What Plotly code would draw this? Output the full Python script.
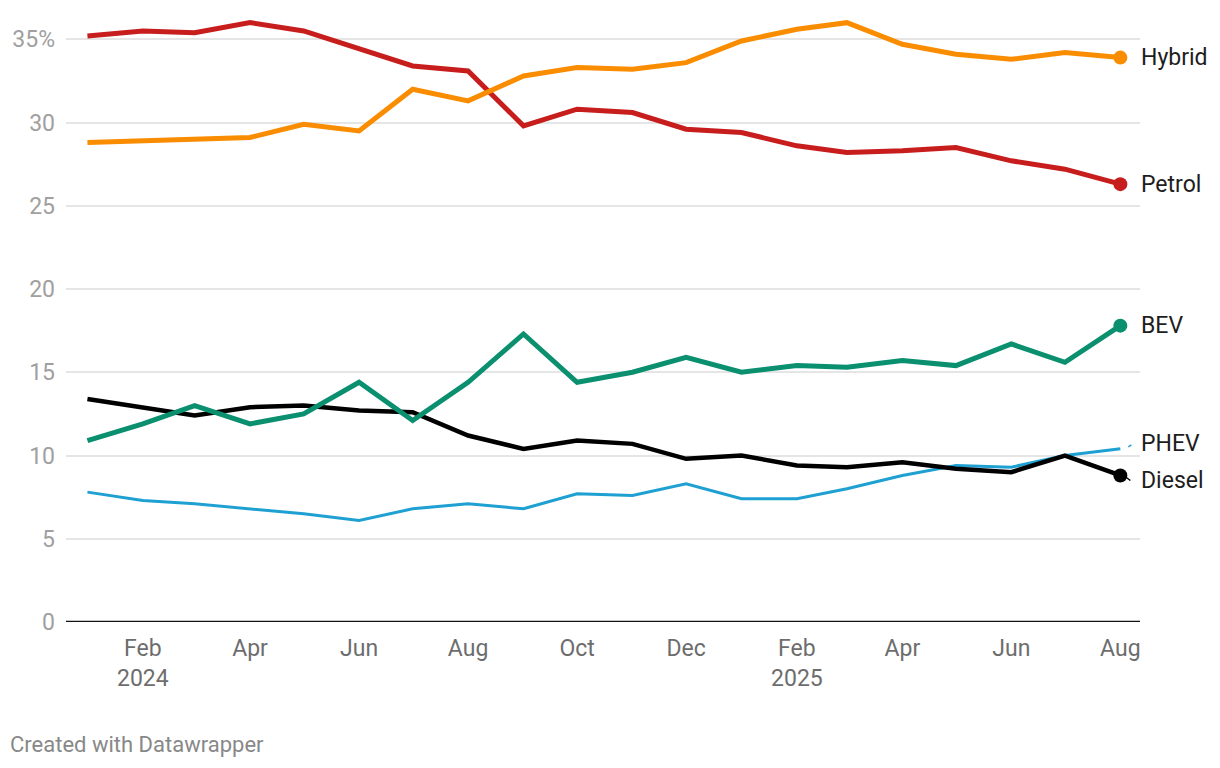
import plotly.graph_objects as go

months = ["2024-01-01", "2024-02-01", "2024-03-01", "2024-04-01", "2024-05-01", "2024-06-01",
          "2024-07-01", "2024-08-01", "2024-09-01", "2024-10-01", "2024-11-01", "2024-12-01",
          "2025-01-01", "2025-02-01", "2025-03-01", "2025-04-01", "2025-05-01", "2025-06-01",
          "2025-07-01", "2025-08-01"]

hybrid = [28.8, 28.9, 29.0, 29.1, 29.9, 29.5, 32.0, 31.3, 32.8, 33.3, 33.2, 33.6,
          34.9, 35.6, 36.0, 34.7, 34.1, 33.8, 34.2, 33.9]
petrol = [35.2, 35.5, 35.4, 36.0, 35.5, 34.4, 33.4, 33.1, 29.8, 30.8, 30.6, 29.6,
          29.4, 28.6, 28.2, 28.3, 28.5, 27.7, 27.2, 26.3]
bev = [10.9, 11.9, 13.0, 11.9, 12.5, 14.4, 12.1, 14.4, 17.3, 14.4, 15.0, 15.9,
       15.0, 15.4, 15.3, 15.7, 15.4, 16.7, 15.6, 17.8]
phev = [7.8, 7.3, 7.1, 6.8, 6.5, 6.1, 6.8, 7.1, 6.8, 7.7, 7.6, 8.3,
        7.4, 7.4, 8.0, 8.8, 9.4, 9.3, 10.0, 10.4]
diesel = [13.4, 12.9, 12.4, 12.9, 13.0, 12.7, 12.6, 11.2, 10.4, 10.9, 10.7, 9.8,
          10.0, 9.4, 9.3, 9.6, 9.2, 9.0, 10.0, 8.8]

y_ticks = [0, 5, 10, 15, 20, 25, 30, 35]
y_tick_text = ["0", "5", "10", "15", "20", "25", "30", "35%"]
x_ticks = ["2024-02-01", "2024-04-01", "2024-06-01", "2024-08-01", "2024-10-01", "2024-12-01",
           "2025-02-01", "2025-04-01", "2025-06-01", "2025-08-01"]
x_tick_text = ["Feb<br>2024", "Apr", "Jun", "Aug", "Oct", "Dec", "Feb<br>2025", "Apr", "Jun", "Aug"]

series = [
    # name, values, color, width, endpoint dot, label yshift
    ("PHEV", phev, "#1ea0d2", 3, False, 5),
    ("Diesel", diesel, "#000000", 4.5, True, -5),
    ("BEV", bev, "#0a8f6f", 5, True, 0),
    ("Petrol", petrol, "#c71e1d", 5, True, 0),
    ("Hybrid", hybrid, "#fa8c00", 5, True, 0),
]

FONT = "Roboto"
fig = go.Figure()
for name, vals, color, width, dot, yshift in series:
    fig.add_trace(go.Scatter(x=months, y=vals, mode="lines", name=name,
                             line=dict(color=color, width=width), showlegend=False,
                             hoverinfo="skip"))
    if dot:
        fig.add_trace(go.Scatter(x=[months[-1]], y=[vals[-1]], mode="markers",
                                 marker=dict(color=color, size=14), showlegend=False,
                                 hoverinfo="skip"))
    fig.add_annotation(x=months[-1], y=vals[-1], text=name, showarrow=False,
                       xanchor="left", yanchor="middle", xshift=19, yshift=yshift,
                       font=dict(family=FONT, size=23, color="#1d1d1d"))

# small connector marks for shifted labels
fig.add_shape(type="line", xref="x", yref="y", xsizemode="pixel", ysizemode="pixel",
              xanchor=months[-1], yanchor=phev[-1], x0=8, x1=11, y0=2, y1=4,
              line=dict(color="#1ea0d2", width=1.5))
fig.add_shape(type="line", xref="x", yref="y", xsizemode="pixel", ysizemode="pixel",
              xanchor=months[-1], yanchor=diesel[-1], x0=6, x1=10, y0=-2, y1=-5,
              line=dict(color="#000000", width=1.5))

fig.add_annotation(xref="paper", yref="paper", x=0, y=0, xanchor="left", yanchor="bottom",
                   text="Created with Datawrapper", showarrow=False,
                   xshift=-58, yshift=-137,
                   font=dict(family=FONT, size=22, color="#888888"))

fig.update_layout(
    width=1220, height=768,
    margin=dict(l=66, r=80, t=6, b=146),
    paper_bgcolor="white", plot_bgcolor="white",
    font=dict(family=FONT),
    xaxis=dict(type="date", range=["2023-12-20", "2025-08-12"], tickvals=x_ticks,
               ticktext=x_tick_text, showgrid=False, zeroline=False, showline=False,
               ticks="", tickfont=dict(family=FONT, size=23, color="#6d6d6d"),
               ticklabelstandoff=10),
    yaxis=dict(range=[0, 37], tickvals=y_ticks, ticktext=y_tick_text,
               showgrid=True, gridcolor="#e5e5e5", gridwidth=1.5, zeroline=False,
               showline=False, ticks="", ticklabelstandoff=10,
               tickfont=dict(family=FONT, size=23, color="#a0a0a0")),
)
# baseline at zero
fig.add_shape(type="line", xref="paper", yref="y", x0=0, x1=1, y0=0, y1=0,
              line=dict(color="#111111", width=2.5), layer="above")

fig.write_html("out.html", config={"displayModeBar": False},
               post_script="document.body.style.margin='0';document.body.style.overflow='hidden';")
